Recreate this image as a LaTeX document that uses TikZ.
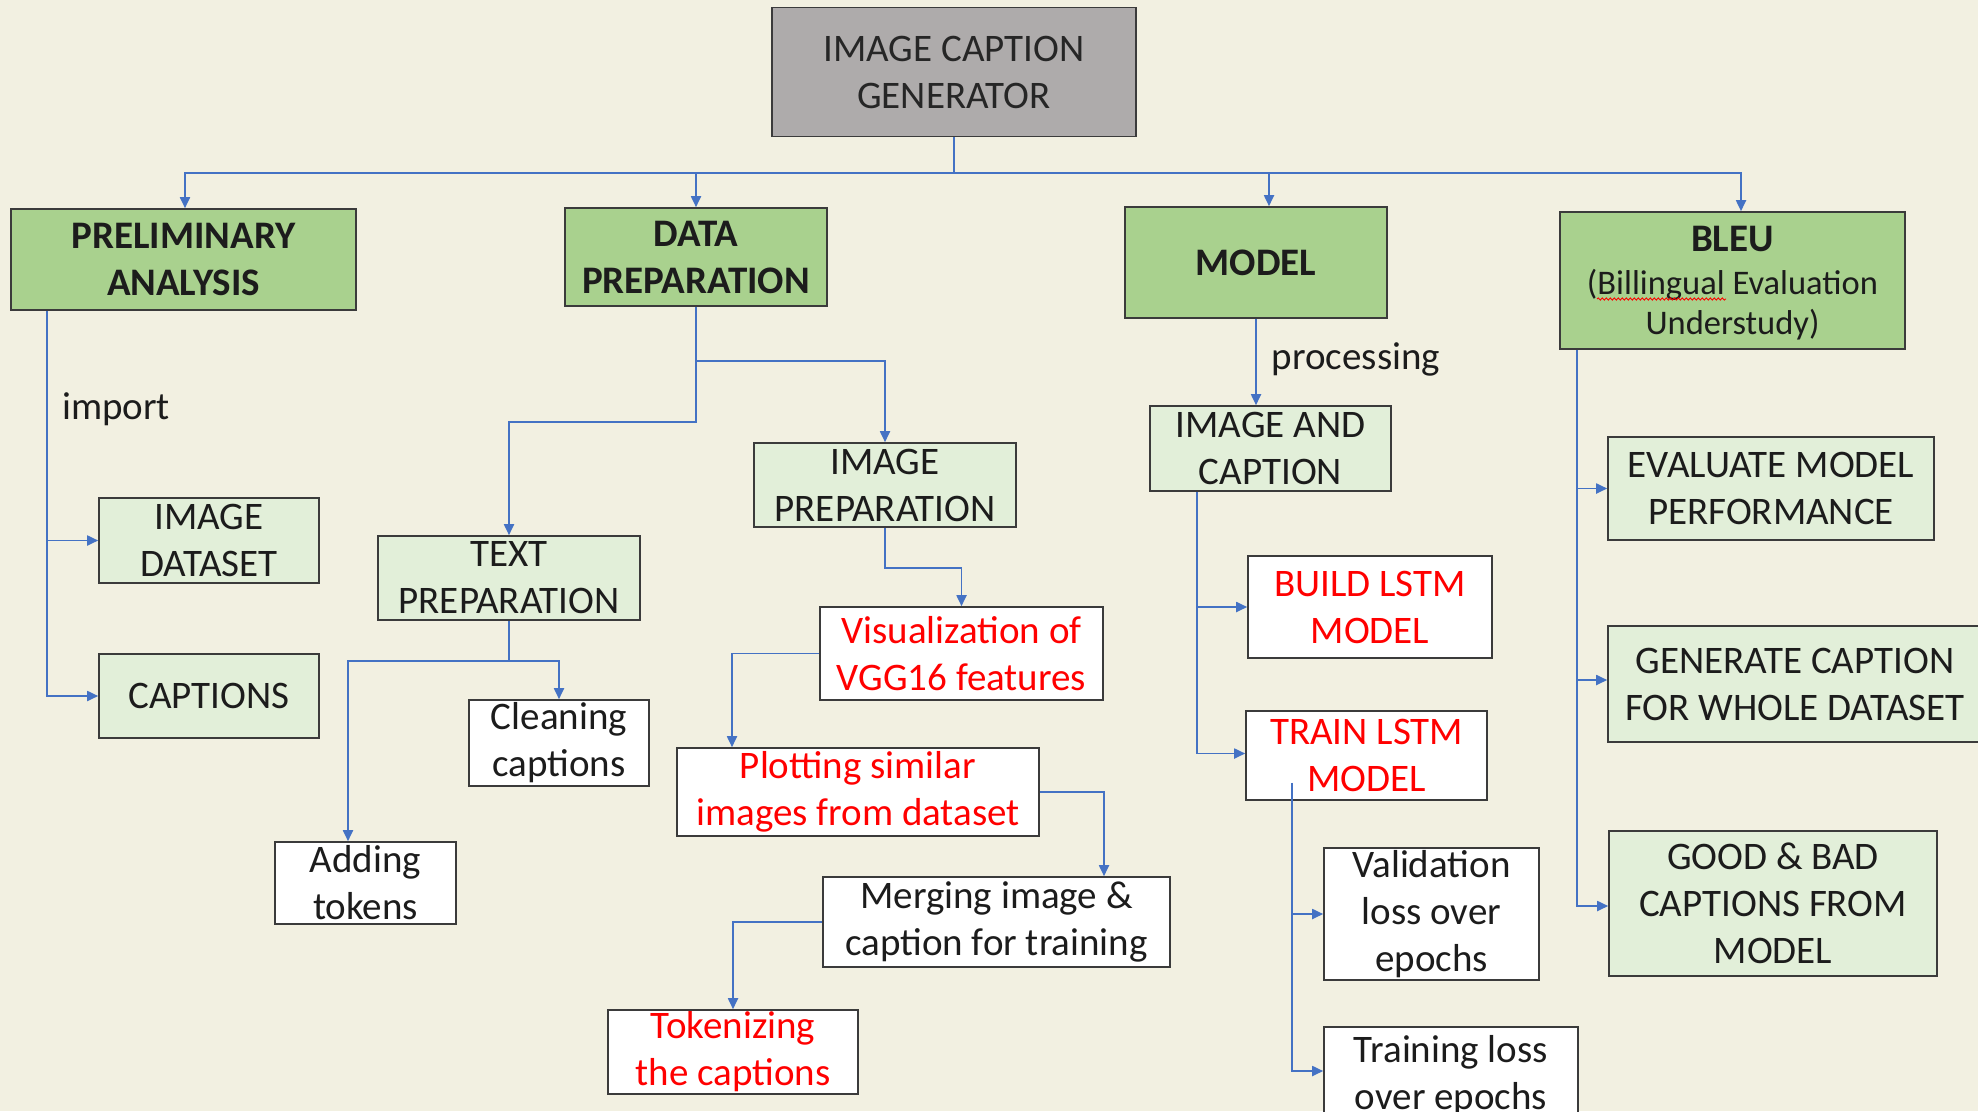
\documentclass[tikz,border=0pt]{standalone}
\usepackage{fontspec}
\setmainfont{Carlito}
\usetikzlibrary{arrows.meta,decorations.pathmorphing}
\definecolor{bg}{HTML}{F2F0E1}
\definecolor{dgreen}{HTML}{A9D18E}
\definecolor{lgreen}{HTML}{E2EFD9}
\definecolor{gbox}{HTML}{AEABAB}
\definecolor{conn}{HTML}{4472C4}
\definecolor{rtext}{HTML}{FF0000}
\definecolor{edge}{HTML}{3B3B3B}
\definecolor{txt}{HTML}{1C1C1C}
\begin{document}
\begin{tikzpicture}[x=1pt,y=-1pt,
 box/.style={draw=edge,line width=1.6pt,align=center,inner sep=0pt,font=\fontsize{39}{47}\selectfont,text=txt},
 dbox/.style={box,fill=dgreen,font=\fontsize{39}{47}\selectfont\bfseries},
 lbox/.style={box,fill=lgreen},
 wbox/.style={box,fill=white},
 rbox/.style={wbox,text=rtext},
 sz/.style 2 args={minimum width=#1pt,minimum height=#2pt},
 arr/.style={draw=conn,line width=1.8pt,-{Triangle[length=11pt,width=10pt]}},
 lab/.style={font=\fontsize{39}{47}\selectfont,inner sep=0pt,text=txt}]
\useasboundingbox (0,0) rectangle (1978,1111);
\fill[bg] (0,0) rectangle (1978,1111);
\clip (0,0) rectangle (1978,1111);

% top
\node[box,fill=gbox,sz={364}{129},text=black!85] (top) at (954,72) {IMAGE CAPTION\\GENERATOR};

% level 1
\node[dbox,sz={345}{101}] (prelim) at (183.5,259.5) {PRELIMINARY\\ANALYSIS};
\node[dbox,sz={262}{98}] (dataprep) at (696,257) {DATA\\PREPARATION};
\node[dbox,sz={262}{111}] (model) at (1256,262.5) {MODEL};
\node[dbox,sz={345}{137}] (bleu) at (1732.5,280.5) {};
\node[font=\fontsize{39}{47}\selectfont\bfseries,text=txt,inner sep=0pt] (bleut) at (1732.5,239) {BLEU};
\node[font=\fontsize{34.5}{40}\selectfont,text=txt,align=center,inner sep=0pt] (bleus) at (1732.5,305) {(Billingual Evaluation\\Understudy)};

% preliminary
\node[lbox,sz={220}{85}] (imgds) at (209,540.5) {IMAGE\\DATASET};
\node[lbox,sz={220}{84}] (captions) at (209,696) {CAPTIONS};

% data preparation
\node[lbox,sz={262}{84}] (imgprep) at (885,485) {IMAGE\\PREPARATION};
\node[lbox,sz={262}{84}] (textprep) at (509,578) {TEXT\\PREPARATION};
\node[wbox,sz={180}{86}] (cleaning) at (559,743) {Cleaning\\captions};
\node[wbox,sz={181}{82}] (adding) at (365.5,883) {Adding\\tokens};
\node[rbox,sz={283}{93}] (vis) at (961.5,653.5) {Visualization of\\VGG16 features};
\node[rbox,sz={362}{88}] (plot) at (858,792) {Plotting similar\\images from dataset};
\node[wbox,sz={347}{90}] (merge) at (996.5,922) {Merging image \&\\caption for training};
\node[rbox,sz={250}{84}] (token) at (733,1052) {Tokenizing\\the captions};

% model
\node[lbox,sz={241}{85}] (imgcap) at (1270.5,448.5) {IMAGE AND\\CAPTION};
\node[rbox,sz={244}{102}] (build) at (1370,607) {BUILD LSTM\\MODEL};
\node[rbox,sz={241}{89}] (train) at (1366.5,755.5) {TRAIN LSTM\\MODEL};
\node[wbox,sz={215}{132}] (valid) at (1431.5,914) {Validation\\loss over\\epochs};
\node[wbox,sz={254}{98}] (trainloss) at (1451,1076) {Training loss\\over epochs};

% bleu
\node[lbox,sz={326}{103}] (evaluate) at (1771,488.5) {EVALUATE MODEL\\PERFORMANCE};
\node[lbox,sz={382}{116}] (generate) at (1799,684) {GENERATE CAPTION\hspace*{8pt}\\FOR WHOLE DATASET\hspace*{8pt}};
\node[lbox,sz={328}{145}] (good) at (1773,903.5) {GOOD \& BAD\\CAPTIONS FROM\\MODEL};

% labels
\node[lab] (imp) at (116,409) {import};
\node[lab] (proc) at (1356,359) {processing};

% connectors
\coordinate (bus) at (954,173);
\draw[arr] (top.south) -- (bus) -| ([xshift=1.5pt]prelim.north);
\draw[arr] (top.south) -- (bus) -| (dataprep.north);
\draw[arr] (top.south) -- (bus) -| ([xshift=13pt]model.north);
\draw[arr] (top.south) -- (bus) -| ([xshift=8.5pt]bleu.north);

\draw[arr] ([xshift=37pt]prelim.south west) |- (imgds.west);
\draw[arr] ([xshift=37pt]prelim.south west) |- (captions.west);

\draw[arr] (dataprep.south) -- ++(0,54) -| (imgprep.north);
\draw[arr] (dataprep.south) -- ++(0,115) -| (textprep.north);
\draw[arr] (textprep.south) -- ++(0,40) -| (cleaning.north);
\draw[arr] (textprep.south) -- ++(0,40) -| ([xshift=-17.5pt]adding.north);
\draw[arr] (imgprep.south) -- ++(0,40) -| (vis.north);
\draw[arr] (vis.west) -| ([xshift=-126pt]plot.north);
\draw[arr] (plot.east) -| ([xshift=107.5pt]merge.north);
\draw[arr] (merge.west) -| (token.north);

\draw[arr] (model.south) -- (model.south |- imgcap.north);
\draw[arr] ([xshift=48pt]imgcap.south west) |- (build.west);
\draw[arr] ([xshift=48pt]imgcap.south west) |- ([yshift=2pt]train.west);
\draw[arr] ([xshift=47pt,yshift=18pt]train.south west) |- (valid.west);
\draw[arr] ([xshift=47pt,yshift=18pt]train.south west) |- ([yshift=5pt]trainloss.west);

\draw[arr] ([xshift=18pt]bleu.south west) |- (evaluate.west);
\draw[arr] ([xshift=18pt]bleu.south west) |- ([yshift=4pt]generate.west);
\draw[arr] ([xshift=18pt]bleu.south west) |- ([yshift=-2.5pt]good.west);

% spell-check underline
\draw[red,line width=0.9pt,decorate,decoration={snake,amplitude=1.1pt,segment length=4pt}] (1597,299) -- (1726,299);
\end{tikzpicture}
\end{document}
